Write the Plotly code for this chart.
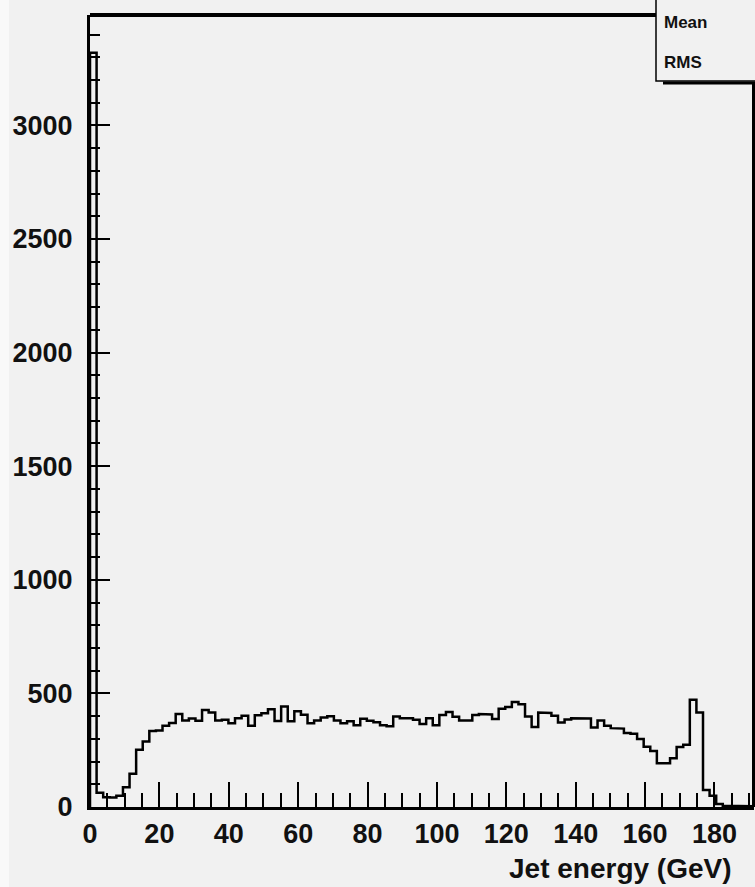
import plotly.graph_objects as go

# Histogram data: jet energy, bins of 1.9 GeV starting at 0
bin_width = 1.9
counts = [
    3320, 63, 43, 42, 49, 87, 146, 252, 288, 335,
    337, 358, 370, 409, 381, 390, 380, 427, 416, 381,
    384, 369, 391, 402, 358, 404, 413, 430, 378, 442,
    377, 421, 406, 369, 381, 394, 399, 381, 369, 377,
    360, 388, 380, 373, 360, 355, 398, 391, 391, 384,
    365, 391, 360, 405, 418, 397, 381, 381, 405, 409,
    407, 387, 432, 440, 462, 452, 398, 352, 416, 414,
    402, 372, 385, 391, 391, 390, 350, 381, 358, 347,
    345, 326, 322, 299, 265, 247, 193, 193, 215, 264,
    274, 472, 416, 75, 49, 13, 5, 4, 4, 3, 3,
]
x_ticks = [0, 20, 40, 60, 80, 100, 120, 140, 160, 180]
y_ticks = [0, 500, 1000, 1500, 2000, 2500, 3000]
x_title = "Jet energy (GeV)"
stat_labels = ["Mean", "RMS"]

x_max = 191.4
y_max = 3486

# step outline built from the bin contents
xs, ys = [0], [0]
for i, c in enumerate(counts):
    lo = i * bin_width
    hi = (i + 1) * bin_width
    xs += [lo, hi]
    ys += [c, c]

W, H = 755, 887
L, R, T, B = 90, 1, 15, 80
pw, ph = W - L - R, H - T - B

def px_x(p):
    return (p - L) / pw

def px_y(p):
    return (H - B - p) / ph

bg = "#f1f1f1"
font_family = "Liberation Sans, Arial, Helvetica, sans-serif"

fig = go.Figure()
fig.add_trace(go.Scatter(
    x=xs, y=ys, mode="lines",
    line=dict(color="black", width=2.5),
    hoverinfo="skip", showlegend=False,
))

fig.update_layout(
    width=W, height=H, autosize=False,
    margin=dict(l=L, r=R, t=T, b=B, pad=0),
    paper_bgcolor=bg, plot_bgcolor=bg,
    showlegend=False,
    xaxis=dict(
        range=[0, x_max], showgrid=False, zeroline=False,
        showline=True, linecolor="black", linewidth=3,
        tickmode="array", tickvals=x_ticks, ticktext=[str(v) for v in x_ticks],
        ticks="inside", ticklen=25, tickwidth=2, tickcolor="black",
        minor=dict(dtick=5, tick0=0, ticks="inside", ticklen=14, tickwidth=2, tickcolor="black"),
        tickfont=dict(family=font_family, size=27, color="#111", weight="bold"),
        ticklabelstandoff=1,
    ),
    yaxis=dict(
        range=[0, y_max], showgrid=False, zeroline=False,
        showline=True, linecolor="black", linewidth=3,
        tickmode="array", tickvals=y_ticks, ticktext=[str(v) for v in y_ticks],
        ticks="inside", ticklen=20, tickwidth=2, tickcolor="black",
        minor=dict(dtick=100, tick0=0, ticks="inside", ticklen=10, tickwidth=2, tickcolor="black"),
        tickfont=dict(family=font_family, size=27, color="#111", weight="bold"),
        ticklabelstandoff=9,
    ),
    shapes=[
        # light strip at the far left of the canvas
        dict(type="rect", xref="paper", yref="paper", x0=px_x(0), x1=px_x(9), y0=px_y(H), y1=px_y(0),
             fillcolor="#f9f9f9", line=dict(width=0), layer="below"),
        # top frame
        dict(type="line", xref="paper", yref="paper", x0=0, x1=px_x(656), y0=1, y1=1,
             line=dict(color="black", width=4)),
        # right frame
        dict(type="line", xref="paper", yref="paper", x0=px_x(753.5), x1=px_x(753.5), y0=0, y1=px_y(83),
             line=dict(color="black", width=3)),
        # stats box
        dict(type="rect", xref="paper", yref="paper", x0=px_x(656), x1=px_x(770), y0=px_y(81), y1=px_y(-10),
             fillcolor=bg, line=dict(color="black", width=1.5)),
        # stats box shadow
        dict(type="line", xref="paper", yref="paper", x0=px_x(663), x1=px_x(760), y0=px_y(83), y1=px_y(83),
             line=dict(color="black", width=3)),
    ],
    annotations=[
        dict(text=x_title, xref="paper", yref="paper", x=px_x(734), y=px_y(868),
             xanchor="right", yanchor="middle", showarrow=False,
             font=dict(family=font_family, size=28, color="#111", weight="bold")),
        dict(text=stat_labels[0], xref="paper", yref="paper", x=px_x(662), y=px_y(23),
             xanchor="left", yanchor="middle", showarrow=False,
             font=dict(family=font_family, size=17, color="#111", weight="bold")),
        dict(text=stat_labels[1], xref="paper", yref="paper", x=px_x(662), y=px_y(62),
             xanchor="left", yanchor="middle", showarrow=False,
             font=dict(family=font_family, size=17, color="#111", weight="bold")),
    ],
)

fig.write_html(
    "out.html",
    config={"displayModeBar": False},
    post_script="document.body.style.margin='0';document.body.style.overflow='hidden';",
)
